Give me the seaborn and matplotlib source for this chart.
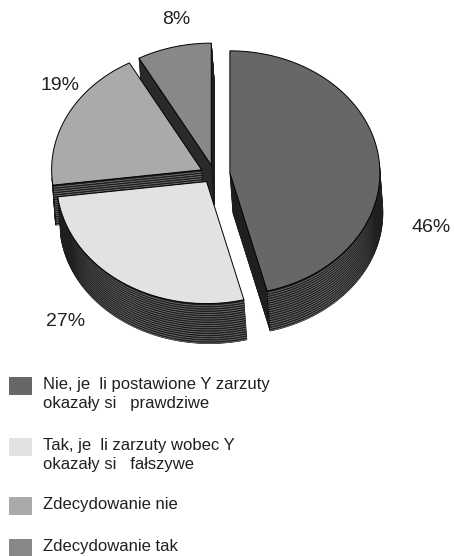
import numpy as np
import matplotlib
matplotlib.use("Agg")
import matplotlib.pyplot as plt
from matplotlib.patches import Polygon, Rectangle
from matplotlib.collections import LineCollection
from matplotlib.colors import to_rgb
import seaborn as sns

# Survey answers and their shares (percent)
categories = [
    "Nie, je  li postawione Y zarzuty\nokazały si   prawdziwe",
    "Tak, je  li zarzuty wobec Y\nokazały si   fałszywe",
    "Zdecydowanie nie",
    "Zdecydowanie tak",
]
values = [46, 27, 19, 8]
slice_colors = ["#676767", "#e1e2e4", "#a9aaac", "#87888a"]

sns.set_theme(style="white")
plt.rcParams["font.family"] = ["Liberation Sans", "DejaVu Sans"]
TEXT = "#231f20"

W, H = 454, 556
fig = plt.figure(figsize=(W / 100, H / 100), dpi=100)
ax = fig.add_axes([0, 0, 1, 1])
ax.set_xlim(0, W)
ax.set_ylim(H, 0)
ax.axis("off")

# 3D pie geometry (pixel space, y down)
cx, cy = 215.0, 174.0
rx, ry = 150.0, 122.0
ext = np.array([3.0, 40.0])      # extrusion of the pie body
explode = np.array([0.1, 0.075])
step = 2.2                       # spacing of the wall stripes
wall_c = np.array(to_rgb("#1f1f1f"))
stripe_c = np.array(to_rgb("#8c8c8c"))
ext_len = np.hypot(*ext)

_z = [1.0]


def nz():
    _z[0] += 0.01
    return _z[0]


def ell(phi):
    r = np.radians(phi)
    return np.column_stack([rx * np.cos(r), -ry * np.sin(r)])


def stripes(p0, p1, dirs):
    """Stripe segments parallel to the top edge, faded where they crowd."""
    segs, cols = [], []
    for t in np.arange(step, ext[1], step):
        a = p0 + ext * t / ext[1]
        b = p1 + ext * t / ext[1]
        for k in range(len(a)):
            d = dirs[k]
            s = abs(d[0] * ext[1] - d[1] * ext[0]) / (np.hypot(*d) * ext_len + 1e-9)
            w = np.clip((s * step - 0.9) / 1.0, 0, 1)
            segs.append([a[k], b[k]])
            cols.append(tuple(wall_c + (stripe_c - wall_c) * w))
    ax.add_collection(LineCollection(segs, colors=cols, linewidths=0.45, zorder=nz()))


def draw_slice(a0, a1, color):
    mid = (a0 + a1) / 2
    V = np.array([cx, cy]) + explode * ell(np.array([mid]))[0]
    phis = np.linspace(a0, a1, 240)
    arc = V + ell(phis)

    # visible cut faces
    for P, Q in [(V, arc[0]), (arc[-1], V)]:
        e = Q - P
        if e[0] * ext[1] - e[1] * ext[0] > 0:
            quad = np.array([P, Q, Q + ext, P + ext])
            ax.add_patch(Polygon(quad, closed=True, fc=wall_c, ec="black",
                                 lw=0.5, zorder=nz()))
            stripes(np.array([P]), np.array([Q]), np.array([e]))

    # visible outer wall
    r = np.radians(phis)
    vis = -ext[1] * rx * np.sin(r) + ext[0] * ry * np.cos(r) > 0
    if vis.any():
        idx = np.where(vis)[0]
        seg = arc[idx[0]:idx[-1] + 1]
        poly = np.vstack([seg, (seg + ext)[::-1]])
        ax.add_patch(Polygon(poly, closed=True, fc=wall_c, ec="black",
                             lw=0.5, zorder=nz()))
        stripes(seg[:-1], seg[1:], np.diff(seg, axis=0))

    # top face
    ax.add_patch(Polygon(np.vstack([V, arc]), closed=True, fc=color,
                         ec="black", lw=0.7, joinstyle="miter", zorder=nz()))


# slice angles: clockwise from twelve o'clock
spans = []
start = 90.0
for v in values:
    end = start - v * 3.6
    spans.append((end, start))
    start = end

# paint back slices first
order = sorted(range(len(values)),
               key=lambda i: -np.sin(np.radians(sum(spans[i]) / 2)))
for i in order:
    draw_slice(spans[i][0], spans[i][1], slice_colors[i])

# percentage labels
label_pos = [(431, 227), (66, 321), (60, 85), (176, 20)]
for v, (lx, ly) in zip(values, label_pos):
    ax.text(lx, ly, f"{v}%", ha="center", va="center", fontsize=14,
            color=TEXT, zorder=10)

# legend
legend_top = [377, 438, 497, 539]
for name, col, top in zip(categories, slice_colors, legend_top):
    ax.add_patch(Rectangle((9, top), 23, 18, fc=col, ec="none", zorder=10))
    for j, line in enumerate(name.split("\n")):
        ax.text(43, top + 12 + 19 * j, line, ha="left", va="baseline",
                fontsize=12, color=TEXT, zorder=10)

fig.savefig("out.png", dpi=100)
